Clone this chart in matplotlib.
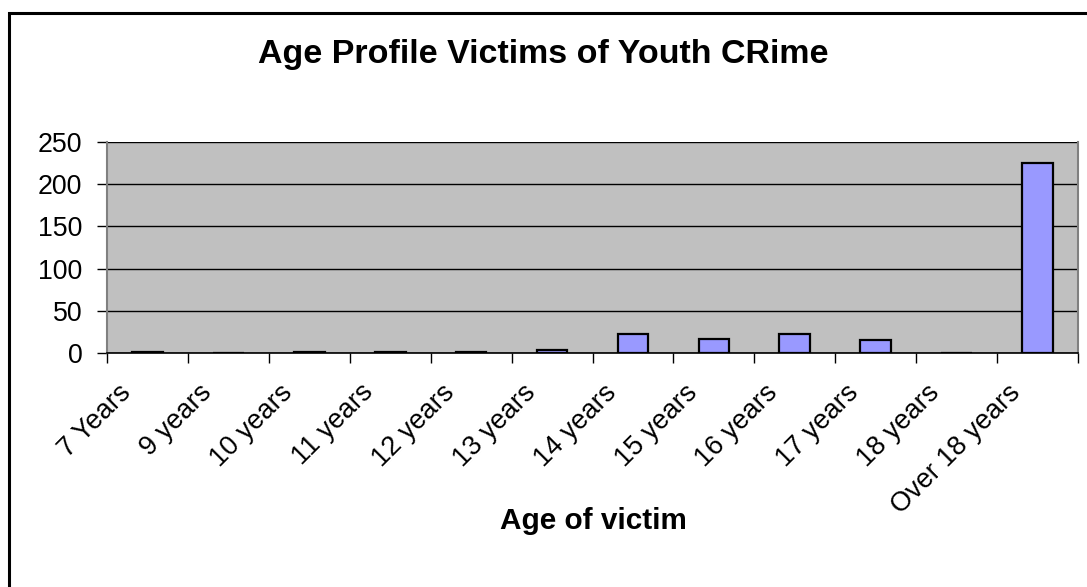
import matplotlib
matplotlib.use("Agg")
import matplotlib.pyplot as plt
from matplotlib.patches import Rectangle

categories = ["7 Years", "9 years", "10 years", "11 years", "12 years", "13 years",
              "14 years", "15 years", "16 years", "17 years", "18 years", "Over 18 years"]
values = [1, 0, 1, 1, 1, 4, 22, 17, 22, 15, 0, 225]
yticks = [0, 50, 100, 150, 200, 250]

plt.rcParams['font.family'] = ['Liberation Sans', 'DejaVu Sans']

fig = plt.figure(figsize=(10.87, 5.87), dpi=100)
fig.patch.set_facecolor('white')
# outer chart border
fig.add_artist(Rectangle((9/1087, -0.01), 1.1, 1 - 12.5/587 + 0.01, transform=fig.transFigure,
                         fill=False, edgecolor='black', linewidth=2.2))

ax = fig.add_axes([107/1087, 1 - 353/587, (1078 - 107)/1087, (353 - 142)/587])
ax.set_facecolor('#C0C0C0')
x = list(range(len(categories)))
ax.bar(x, values, width=0.38, color='#9999FF', edgecolor='black', linewidth=1.6, zorder=3)

ax.set_xlim(-0.5, len(categories) - 0.5)
ax.set_ylim(0, 250)
ax.set_yticks(yticks)
ax.set_yticklabels([str(v) for v in yticks], fontsize=19.3)
ax.yaxis.grid(True, color='black', linewidth=1.0, zorder=1)
ax.set_axisbelow(True)

ax.set_xticks(x)
ax.set_xticklabels([''] * len(categories))
for i, c in zip(x, categories):
    ax.annotate(c, xy=(i, 0), xycoords=('data', 'axes fraction'),
                xytext=(-21.5, -19), textcoords='offset points',
                ha='right', va='top', rotation=45, rotation_mode='anchor',
                fontsize=19.5, annotation_clip=False)
ax.tick_params(axis='x', which='major', length=0)
ax.set_xticks([i + 0.5 for i in range(-1, len(categories))], minor=True)
ax.tick_params(axis='x', which='minor', length=7, width=1, color='black')
ax.tick_params(axis='y', length=7.2, width=1, color='black', pad=10.5)

for s in ['left', 'right', 'top']:
    ax.spines[s].set_color('#808080')
    ax.spines[s].set_linewidth(1.5)
ax.spines['top'].set_visible(False)
ax.spines['bottom'].set_color('black')
ax.spines['bottom'].set_linewidth(1.2)

fig.text(0.5, 1 - 55/587, "Age Profile Victims of Youth CRime", ha='center', va='center',
         fontsize=24.5, fontweight='bold')
fig.text(593.5/1087, 1 - 521/587, "Age of victim", ha='center', va='center',
         fontsize=21.4, fontweight='bold')

fig.savefig("out.png", dpi=100)
